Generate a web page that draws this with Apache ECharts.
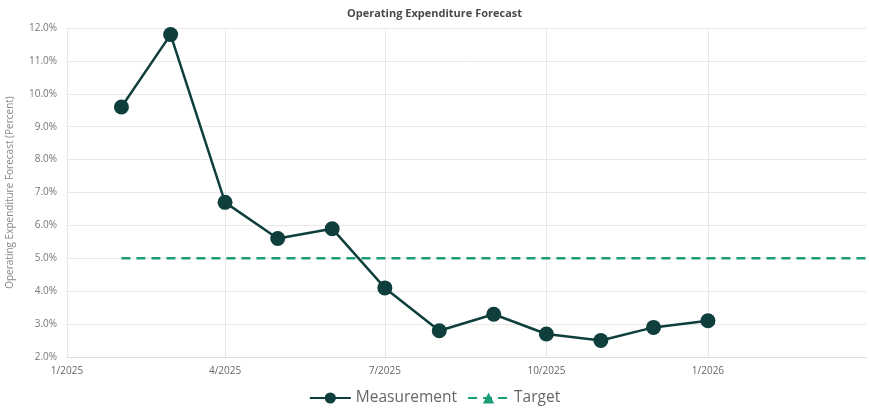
<!DOCTYPE html>
<html>
<head>
<meta charset="utf-8">
<script src="https://cdn.jsdelivr.net/npm/echarts@6/dist/echarts.min.js"></script>
<style>html,body{margin:0;padding:0;background:#fff}#c{width:869px;height:409px}</style>
</head>
<body>
<div id="c"></div>
<script>
var dates = ['2025-02-01','2025-03-01','2025-04-01','2025-05-01','2025-06-01','2025-07-01','2025-08-01','2025-09-01','2025-10-01','2025-11-01','2025-12-01','2026-01-01'];
var measurement = [9.6, 11.8, 6.7, 5.6, 5.9, 4.1, 2.8, 3.3, 2.7, 2.5, 2.9, 3.1];
var targetDates = ['2025-02-01','2026-04-01'];
var targetValues = [5.0, 5.0];
var xTicks = ['2025-01-01','2025-04-01','2025-07-01','2025-10-01','2026-01-01'];
var xMin = '2025-01-01', xMax = '2026-04-01';

function ts(s){var p=s.split('-');return Date.UTC(+p[0],+p[1]-1,+p[2]);}
var tickVals = xTicks.map(ts);

var chart = echarts.init(document.getElementById('c'), null, {renderer:'canvas'});
chart.setOption({
  animation:false,
  backgroundColor:'#fff',
  title:{text:'Operating Expenditure Forecast', left:'center', top:3,
    textStyle:{fontSize:11, fontWeight:'bold', color:'#4a4a4a', fontFamily:'Open Sans'}},
  grid:{left:67, right:3, top:28, bottom:52, outerBoundsMode:'none', containLabel:false},
  legend:{bottom:-2, left:'center', itemWidth:41, itemHeight:14, itemGap:10,
    textStyle:{fontSize:15.5, color:'#666', fontFamily:'Open Sans'},
    data:['Measurement','Target']},
  xAxis:{type:'value', min:ts(xMin), max:ts(xMax),
    axisLine:{show:true, lineStyle:{color:'#ddd'}},
    axisTick:{show:false, customValues:tickVals},
    axisLabel:{customValues:tickVals, color:'#666', fontSize:10, fontFamily:'Open Sans', margin:9,
      formatter:function(v){var d=new Date(v);return (d.getUTCMonth()+1)+'/'+d.getUTCFullYear();}},
    splitLine:{show:true, lineStyle:{color:'#e8e8e8'}}
  },
  yAxis:{type:'value', min:2, max:12, interval:1,
    name:'Operating Expenditure Forecast (Percent)', nameLocation:'middle', nameGap:52,
    nameTextStyle:{fontSize:10, color:'#888', fontFamily:'Open Sans'},
    axisLine:{show:false}, axisTick:{show:false},
    axisLabel:{color:'#777', fontSize:10, fontFamily:'Open Sans', margin:10,
      formatter:function(v){return v.toFixed(1)+'%';}},
    splitLine:{lineStyle:{color:'#e8e8e8'}}
  },
  series:[
    {name:'Measurement', type:'line', data:dates.map(function(d,i){return [ts(d),measurement[i]];}),
      symbol:'circle', symbolSize:15, color:'#0f3f3d',
      lineStyle:{width:2.5, color:'#0f3f3d'}, itemStyle:{color:'#0f3f3d'}},
    {name:'Target', type:'line', data:targetDates.map(function(d,i){return [ts(d),targetValues[i]];}),
      symbol:'triangle', symbolSize:12, showSymbol:false, color:'#1c9c78',
      lineStyle:{width:2.5, type:[9,6], color:'#1c9c78'}, itemStyle:{color:'#1c9c78'}}
  ]
});
</script>
</body>
</html>
